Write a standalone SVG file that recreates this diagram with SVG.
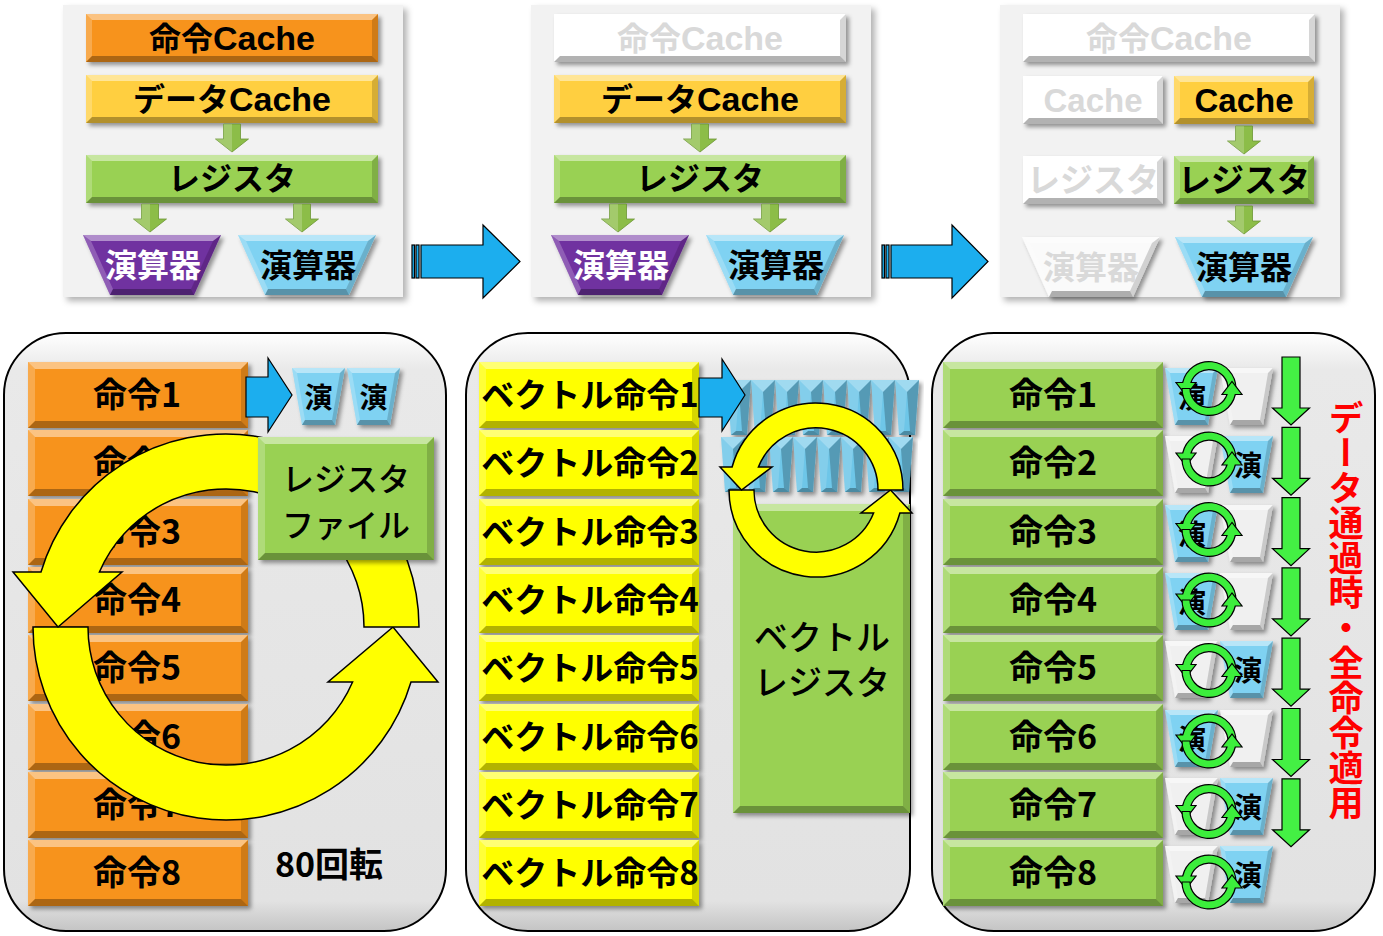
<svg xmlns="http://www.w3.org/2000/svg" xmlns:xlink="http://www.w3.org/1999/xlink" width="1383" height="936" viewBox="0 0 1383 936">
<style>
text{font-family:"Noto Sans CJK JP","Noto Sans",sans-serif;text-anchor:middle;font-weight:700}
.tt{font-size:32px}
.lat{font-family:"Liberation Sans",Arial,sans-serif;font-weight:700;font-size:34px}
.fd{fill:#d9d9d9}
.rt{font-size:34px}
.vt{font-size:33px;font-weight:700}
.ut{font-size:28px}
.hl{fill:#fff;fill-opacity:.45}
.hl2{fill:#fff;fill-opacity:.22}
.dk{fill:#000;fill-opacity:.16}
.dk2{fill:#000;fill-opacity:.3}
.sh{filter:url(#sh)}
.tp{fill:#f2f2f2;filter:url(#sh2)}
.pnl{fill:url(#pg);stroke:#000;stroke-width:2}
.ba{fill:#1CAEEE;stroke:#000;stroke-width:1.2}
.ya{fill:#FFFF00;stroke:#000;stroke-width:1.5}
.ga{fill:#8CBD48;stroke:#6b9632;stroke-width:.8}
.gd{fill:#44F044;stroke:#000;stroke-width:1.2}
.gr{fill:#3CEE3C;stroke:#000;stroke-width:1.2}
</style>
<defs>
<filter id="sh" x="-10%" y="-10%" width="130%" height="140%"><feDropShadow dx="3" dy="3" stdDeviation="2" flood-color="#000" flood-opacity=".4"/></filter>
<filter id="sh2" x="-5%" y="-5%" width="115%" height="115%"><feDropShadow dx="4" dy="4" stdDeviation="3" flood-color="#000" flood-opacity=".3"/></filter>
<linearGradient id="pg" x1="0" y1="0" x2="0" y2="1">
<stop offset="0" stop-color="#ffffff"/><stop offset=".06" stop-color="#e9e9e9"/><stop offset=".95" stop-color="#e2e2e2"/><stop offset="1" stop-color="#c4c4c4"/>
</linearGradient>
<g id="bvW"><polygon class="hl" points="0,0 292,0 286,6 6,6"/><polygon class="hl2" points="0,0 6,6 6,42 0,48"/><polygon class="dk" points="292,0 292,48 286,42 286,6"/><polygon class="dk2" points="0,48 292,48 286,42 6,42"/></g>
<g id="bvS"><polygon class="hl" points="0,0 140,0 134,6 6,6"/><polygon class="hl2" points="0,0 6,6 6,42 0,48"/><polygon class="dk" points="140,0 140,48 134,42 134,6"/><polygon class="dk2" points="0,48 140,48 134,42 6,42"/></g>
<g id="bvR"><polygon class="hl" points="0,0 220,0 213,7 7,7"/><polygon class="hl2" points="0,0 7,7 7,59 0,66"/><polygon class="dk" points="220,0 220,66 213,59 213,7"/><polygon class="dk2" points="0,66 220,66 213,59 7,59"/></g>
<g id="trB"><polygon points="0,0 138,0 111,60 27,60"/><polygon class="hl" points="0,0 138,0 130,6 8,6"/><polygon class="hl2" points="0,0 8,6 30,54 27,60"/><polygon class="dk" points="138,0 111,60 108,54 130,6"/><polygon class="dk2" points="27,60 111,60 108,54 30,54"/></g>
<g id="trS"><polygon points="0,0 53,0 43,57 10,57"/><polygon class="hl" points="0,0 53,0 48,5 5,5"/><polygon class="hl2" points="0,0 5,5 13,52 10,57"/><polygon class="dk" points="53,0 43,57 40,52 48,5"/><polygon class="dk2" points="10,57 43,57 40,52 13,52"/></g>
<g id="vu"><polygon points="0,0 24,0 20,55 4,55" fill="#6EC6E8"/><polygon points="0,0 24,0 12,12" fill="#fff" fill-opacity=".35"/><polygon points="0,0 12,12 9,51 4,55" fill="#fff" fill-opacity=".15"/><polygon points="24,0 20,55 15,51 12,12" fill="#000" fill-opacity=".22"/><polygon points="4,55 20,55 15,51 9,51" fill="#000" fill-opacity=".3"/></g>
<g id="ga"><path class="ga" d="M-8.5,0 H8.5 V15 H16.5 L0,28 L-16.5,15 H-8.5 Z"/><path d="M-8.5,0 H0 V28 L-16.5,15 H-8.5 Z" fill="#fff" fill-opacity=".2"/></g>
<g id="gring"><path class="gr" d="M27,0 A27,27 0 0 0 -26.3,-6 L-33,-6 L-23,7 L-13,-6 L-18,-6 A19,19 0 0 1 19,0 Z"/><path class="gr" d="M-27,0 A27,27 0 0 0 26.3,6 L33,6 L23,-7 L13,6 L18,6 A19,19 0 0 1 -19,0 Z"/></g>
<path id="gdown" class="gd" d="M-9,0 H9 V51 H18.5 L0,68 L-18.5,51 H-9 Z"/>
</defs>
<rect width="1383" height="936" fill="#fff"/>

<!-- top panel 1 -->
<g id="top1">
<rect x="63" y="5" width="340" height="292" class="tp"/>
<g id="t1-icache"><rect class="sh" x="86" y="14" width="292" height="48" fill="#F7931E"/><use href="#bvW" x="86" y="14"/><text class="tt" x="232" y="50">命令<tspan class="lat">Cache</tspan></text></g>
<g id="t1-dcache"><rect class="sh" x="86" y="75" width="292" height="48" fill="#FFCF3F"/><use href="#bvW" x="86" y="75"/><text class="tt" x="232" y="111">データ<tspan class="lat">Cache</tspan></text></g>
<g id="t1-reg"><rect class="sh" x="86" y="155" width="292" height="48" fill="#99D153"/><use href="#bvW" x="86" y="155"/><text class="tt" x="232" y="190">レジスタ</text></g>
<g id="t1-alu1"><use class="sh" href="#trB" x="83" y="235" fill="#7030A0"/><text class="tt" x="153" y="277" fill="#fff">演算器</text></g>
<g id="t1-alu2"><use class="sh" href="#trB" x="238" y="235" fill="#7FD2F2"/><text class="tt" x="308" y="277">演算器</text></g>
</g>

<!-- top panel 2 -->
<g id="top2">
<rect x="531" y="5" width="340" height="292" class="tp"/>
<g id="t2-icache"><rect class="sh" x="554" y="14" width="292" height="48" fill="#fff"/><use href="#bvW" x="554" y="14"/><text class="tt fd" x="700" y="50">命令<tspan class="lat">Cache</tspan></text></g>
<g id="t2-dcache"><rect class="sh" x="554" y="75" width="292" height="48" fill="#FFCF3F"/><use href="#bvW" x="554" y="75"/><text class="tt" x="700" y="111">データ<tspan class="lat">Cache</tspan></text></g>
<g id="t2-reg"><rect class="sh" x="554" y="155" width="292" height="48" fill="#99D153"/><use href="#bvW" x="554" y="155"/><text class="tt" x="700" y="190">レジスタ</text></g>
<g id="t2-alu1"><use class="sh" href="#trB" x="551" y="235" fill="#7030A0"/><text class="tt" x="621" y="277" fill="#fff">演算器</text></g>
<g id="t2-alu2"><use class="sh" href="#trB" x="706" y="235" fill="#7FD2F2"/><text class="tt" x="776" y="277">演算器</text></g>
</g>

<!-- top panel 3 -->
<g id="top3">
<rect x="1000" y="5" width="340" height="292" class="tp"/>
<g id="t3-icache"><rect class="sh" x="1023" y="14" width="292" height="48" fill="#fff"/><use href="#bvW" x="1023" y="14"/><text class="tt fd" x="1169" y="50">命令<tspan class="lat">Cache</tspan></text></g>
<g id="t3-cacheL"><rect class="sh" x="1023" y="76" width="140" height="48" fill="#fff"/><use href="#bvS" x="1023" y="76"/><text class="tt fd lat" x="1093" y="112" style="font-size:33px">Cache</text></g>
<g id="t3-cacheR"><rect class="sh" x="1174" y="76" width="140" height="48" fill="#FFCF3F"/><use href="#bvS" x="1174" y="76"/><text class="tt lat" x="1244" y="112" style="font-size:33px">Cache</text></g>
<g id="t3-regL"><rect class="sh" x="1023" y="156" width="140" height="48" fill="#fff"/><use href="#bvS" x="1023" y="156"/><text class="tt fd" x="1093" y="192" style="font-size:33px">レジスタ</text></g>
<g id="t3-regR"><rect class="sh" x="1174" y="156" width="140" height="48" fill="#99D153"/><use href="#bvS" x="1174" y="156"/><text class="tt" x="1244" y="192" style="font-size:33px">レジスタ</text></g>
<g id="t3-aluL"><use class="sh" href="#trB" x="1022" y="237" fill="#fafafa"/><text class="tt fd" x="1091" y="279">演算器</text></g>
<g id="t3-aluR"><use class="sh" href="#trB" x="1175" y="237" fill="#7FD2F2"/><text class="tt" x="1244" y="279">演算器</text></g>
</g>

<!-- bottom panel A -->
<g id="panelA">
<rect x="4" y="333" width="442" height="598" rx="62" class="pnl"/>
<g id="a-r1"><rect class="sh" x="28" y="362" width="220" height="66" fill="#F7931E"/><use href="#bvR" x="28" y="362"/><text class="rt" x="137" y="407">命令1</text></g>
<g id="a-r2"><rect class="sh" x="28" y="430" width="220" height="66" fill="#F7931E"/><use href="#bvR" x="28" y="430"/><text class="rt" x="137" y="475">命令2</text></g>
<g id="a-r3"><rect class="sh" x="28" y="499" width="220" height="66" fill="#F7931E"/><use href="#bvR" x="28" y="499"/><text class="rt" x="137" y="544">命令3</text></g>
<g id="a-r4"><rect class="sh" x="28" y="567" width="220" height="66" fill="#F7931E"/><use href="#bvR" x="28" y="567"/><text class="rt" x="137" y="612">命令4</text></g>
<g id="a-r5"><rect class="sh" x="28" y="635" width="220" height="66" fill="#F7931E"/><use href="#bvR" x="28" y="635"/><text class="rt" x="137" y="680">命令5</text></g>
<g id="a-r6"><rect class="sh" x="28" y="704" width="220" height="66" fill="#F7931E"/><use href="#bvR" x="28" y="704"/><text class="rt" x="137" y="749">命令6</text></g>
<g id="a-r7"><rect class="sh" x="28" y="772" width="220" height="66" fill="#F7931E"/><use href="#bvR" x="28" y="772"/><text class="rt" x="137" y="817">命令7</text></g>
<g id="a-r8"><rect class="sh" x="28" y="840" width="220" height="66" fill="#F7931E"/><use href="#bvR" x="28" y="840"/><text class="rt" x="137" y="885">命令8</text></g>
<g id="a-u1"><use class="sh" href="#trS" x="292" y="368" fill="#7FD2F2"/><text class="ut" x="318.5" y="408">演</text></g>
<g id="a-u2"><use class="sh" href="#trS" x="347" y="368" fill="#7FD2F2"/><text class="ut" x="373.5" y="408">演</text></g>
<g id="a-cycle">
<path class="ya" d="M33,627 A193,193 0 0 0 411,682 L438,682 L393,627 L328,682 L352.6,682 A138,138 0 0 1 88,627 Z"/>
<path class="ya" d="M419,627 A193,193 0 0 0 41,572 L13,572 L58,627 L122,572 L99.4,572 A138,138 0 0 1 364,627 Z"/>
</g>
<g id="a-regfile"><rect class="sh" x="258" y="437" width="176" height="123" fill="#99D153"/>
<polygon class="hl" points="258,437 434,437 427,444 265,444"/><polygon class="hl2" points="258,437 265,444 265,553 258,560"/><polygon class="dk" points="434,437 434,560 427,553 427,444"/><polygon class="dk2" points="258,560 434,560 427,553 265,553"/>
<text x="346" y="491" style="font-size:32px;font-weight:500">レジスタ</text><text x="346" y="537" style="font-size:32px;font-weight:500">ファイル</text></g>
<text id="a-80" x="329" y="877" style="font-size:34px">80回転</text>
</g>

<!-- bottom panel B -->
<g id="panelB">
<rect x="466" y="333" width="444" height="598" rx="62" class="pnl"/>
<g id="b-r1"><rect class="sh" x="479" y="362" width="220" height="66" fill="#FFFF00"/><use href="#bvR" x="479" y="362"/><text class="vt" x="590" y="407">ベクトル命令1</text></g>
<g id="b-r2"><rect class="sh" x="479" y="430" width="220" height="66" fill="#FFFF00"/><use href="#bvR" x="479" y="430"/><text class="vt" x="590" y="475">ベクトル命令2</text></g>
<g id="b-r3"><rect class="sh" x="479" y="499" width="220" height="66" fill="#FFFF00"/><use href="#bvR" x="479" y="499"/><text class="vt" x="590" y="544">ベクトル命令3</text></g>
<g id="b-r4"><rect class="sh" x="479" y="567" width="220" height="66" fill="#FFFF00"/><use href="#bvR" x="479" y="567"/><text class="vt" x="590" y="612">ベクトル命令4</text></g>
<g id="b-r5"><rect class="sh" x="479" y="635" width="220" height="66" fill="#FFFF00"/><use href="#bvR" x="479" y="635"/><text class="vt" x="590" y="680">ベクトル命令5</text></g>
<g id="b-r6"><rect class="sh" x="479" y="704" width="220" height="66" fill="#FFFF00"/><use href="#bvR" x="479" y="704"/><text class="vt" x="590" y="749">ベクトル命令6</text></g>
<g id="b-r7"><rect class="sh" x="479" y="772" width="220" height="66" fill="#FFFF00"/><use href="#bvR" x="479" y="772"/><text class="vt" x="590" y="817">ベクトル命令7</text></g>
<g id="b-r8"><rect class="sh" x="479" y="840" width="220" height="66" fill="#FFFF00"/><use href="#bvR" x="479" y="840"/><text class="vt" x="590" y="885">ベクトル命令8</text></g>
<g id="b-units">
<use class="sh" href="#vu" x="727" y="380"/><use class="sh" href="#vu" x="751" y="380"/><use class="sh" href="#vu" x="775" y="380"/><use class="sh" href="#vu" x="799" y="380"/><use class="sh" href="#vu" x="823" y="380"/><use class="sh" href="#vu" x="847" y="380"/><use class="sh" href="#vu" x="871" y="380"/><use class="sh" href="#vu" x="895" y="380"/>
<use class="sh" href="#vu" x="721" y="437"/><use class="sh" href="#vu" x="745" y="437"/><use class="sh" href="#vu" x="769" y="437"/><use class="sh" href="#vu" x="793" y="437"/><use class="sh" href="#vu" x="817" y="437"/><use class="sh" href="#vu" x="841" y="437"/><use class="sh" href="#vu" x="865" y="437"/><use class="sh" href="#vu" x="889" y="437"/>
</g>
<g id="b-vreg"><rect class="sh" x="733" y="504" width="177" height="309" fill="#99D153"/>
<polygon class="hl" points="733,504 910,504 903,511 740,511"/><polygon class="hl2" points="733,504 740,511 740,806 733,813"/><polygon class="dk" points="910,504 910,813 903,806 903,511"/><polygon class="dk2" points="733,813 910,813 903,806 740,806"/>
<text x="822" y="650" style="font-size:34px;font-weight:500">ベクトル</text><text x="822" y="695" style="font-size:34px;font-weight:500">レジスタ</text></g>
<g id="b-cycle">
<path class="ya" d="M729,490 A87,87 0 0 0 899.9,513 L912,513 L890.5,490 L861,513 L873.6,513 A62,62 0 0 1 754,490 Z"/>
<path class="ya" d="M903,490 A87,87 0 0 0 732.1,467 L720,467 L741.5,490 L772,467 L758.4,467 A62,62 0 0 1 878,490 Z"/>
</g>
</g>

<!-- bottom panel C -->
<g id="panelC">
<rect x="932" y="333" width="443" height="598" rx="62" class="pnl"/>
<g id="c-r1"><rect class="sh" x="943" y="362" width="220" height="66" fill="#99D153"/><use href="#bvR" x="943" y="362"/><text class="rt" x="1053" y="407">命令1</text></g>
<g id="c-r2"><rect class="sh" x="943" y="430" width="220" height="66" fill="#99D153"/><use href="#bvR" x="943" y="430"/><text class="rt" x="1053" y="475">命令2</text></g>
<g id="c-r3"><rect class="sh" x="943" y="499" width="220" height="66" fill="#99D153"/><use href="#bvR" x="943" y="499"/><text class="rt" x="1053" y="544">命令3</text></g>
<g id="c-r4"><rect class="sh" x="943" y="567" width="220" height="66" fill="#99D153"/><use href="#bvR" x="943" y="567"/><text class="rt" x="1053" y="612">命令4</text></g>
<g id="c-r5"><rect class="sh" x="943" y="635" width="220" height="66" fill="#99D153"/><use href="#bvR" x="943" y="635"/><text class="rt" x="1053" y="680">命令5</text></g>
<g id="c-r6"><rect class="sh" x="943" y="704" width="220" height="66" fill="#99D153"/><use href="#bvR" x="943" y="704"/><text class="rt" x="1053" y="749">命令6</text></g>
<g id="c-r7"><rect class="sh" x="943" y="772" width="220" height="66" fill="#99D153"/><use href="#bvR" x="943" y="772"/><text class="rt" x="1053" y="817">命令7</text></g>
<g id="c-r8"><rect class="sh" x="943" y="840" width="220" height="66" fill="#99D153"/><use href="#bvR" x="943" y="840"/><text class="rt" x="1053" y="885">命令8</text></g>
<g id="c-units">
<use class="sh" href="#trS" x="1165" y="368" fill="#7FD2F2"/><use class="sh" href="#trS" x="1220" y="368" fill="#f0f0f0"/><text class="ut" x="1192" y="408">演</text>
<use class="sh" href="#trS" x="1165" y="436" fill="#f0f0f0"/><use class="sh" href="#trS" x="1220" y="436" fill="#7FD2F2"/><text class="ut" x="1248" y="476">演</text>
<use class="sh" href="#trS" x="1165" y="505" fill="#7FD2F2"/><use class="sh" href="#trS" x="1220" y="505" fill="#f0f0f0"/><text class="ut" x="1192" y="545">演</text>
<use class="sh" href="#trS" x="1165" y="573" fill="#7FD2F2"/><use class="sh" href="#trS" x="1220" y="573" fill="#f0f0f0"/><text class="ut" x="1192" y="613">演</text>
<use class="sh" href="#trS" x="1165" y="641" fill="#f0f0f0"/><use class="sh" href="#trS" x="1220" y="641" fill="#7FD2F2"/><text class="ut" x="1248" y="681">演</text>
<use class="sh" href="#trS" x="1165" y="710" fill="#7FD2F2"/><use class="sh" href="#trS" x="1220" y="710" fill="#f0f0f0"/><text class="ut" x="1192" y="750">演</text>
<use class="sh" href="#trS" x="1165" y="778" fill="#f0f0f0"/><use class="sh" href="#trS" x="1220" y="778" fill="#7FD2F2"/><text class="ut" x="1248" y="818">演</text>
<use class="sh" href="#trS" x="1165" y="846" fill="#f0f0f0"/><use class="sh" href="#trS" x="1220" y="846" fill="#7FD2F2"/><text class="ut" x="1248" y="886">演</text>
</g>
<g id="c-cycles">
<use href="#gring" x="1209" y="388.5"/><use href="#gring" x="1209" y="459"/><use href="#gring" x="1209" y="529.5"/><use href="#gring" x="1209" y="600"/>
<use href="#gring" x="1209" y="670.5"/><use href="#gring" x="1209" y="741"/><use href="#gring" x="1209" y="811.5"/><use href="#gring" x="1209" y="882"/>
</g>
<text id="c-note" x="1346" y="400" writing-mode="vertical-rl" style="font-size:35px;fill:#FF0000;text-anchor:start">データ通過時・全命令適用</text>
</g>

<!-- connectors -->
<g id="connectors">
<use href="#ga" x="232" y="124"/><use href="#ga" x="150" y="204"/><use href="#ga" x="302" y="204"/>
<use href="#ga" x="700" y="124"/><use href="#ga" x="618" y="204"/><use href="#ga" x="770" y="204"/>
<use href="#ga" x="1244" y="126"/><use href="#ga" x="1244" y="206"/>
<g id="arr-1-2"><rect class="ba" x="412" y="245" width="2.5" height="33"/><rect class="ba" x="416" y="245" width="3" height="33"/><path class="ba" d="M421,245 H483 V225 L520,261.5 L483,298 V278 H421 Z"/></g>
<g id="arr-2-3"><rect class="ba" x="882" y="245" width="2.5" height="33"/><rect class="ba" x="886" y="245" width="3" height="33"/><path class="ba" d="M891,245 H952 V225 L988,261.5 L952,298 V278 H891 Z"/></g>
<path id="arr-a" class="ba" d="M246,377 H268 V358 L292,395 L268,432 V417 H246 Z"/>
<path id="arr-b" class="ba" d="M699,378 H722 V359 L745,395 L722,431 V417 H699 Z"/>
<use href="#gdown" x="1291" y="357"/><use href="#gdown" x="1291" y="427.3"/><use href="#gdown" x="1291" y="497.6"/><use href="#gdown" x="1291" y="567.9"/>
<use href="#gdown" x="1291" y="638.2"/><use href="#gdown" x="1291" y="708.5"/><use href="#gdown" x="1291" y="778.8"/>
</g>
</svg>
